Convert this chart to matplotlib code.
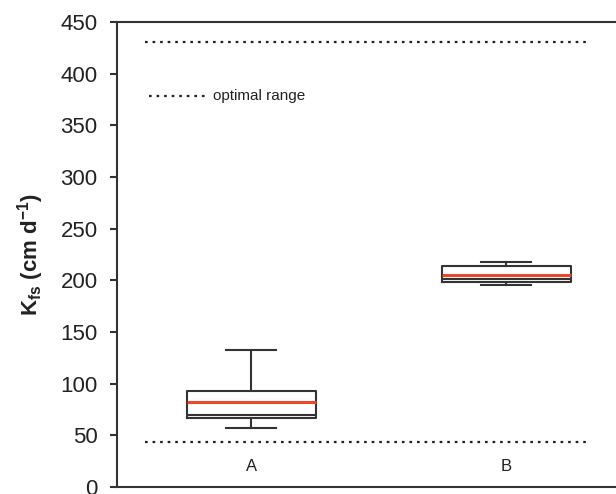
import matplotlib
matplotlib.use("Agg")
import matplotlib.pyplot as plt

plt.rcParams['font.family'] = ['Liberation Sans', 'DejaVu Sans']
plt.rcParams['mathtext.fontset'] = 'custom'
plt.rcParams['mathtext.rm'] = 'Liberation Sans'
plt.rcParams['mathtext.bf'] = 'Liberation Sans:bold'

# valores
grupos = ["A", "B"]
posiciones = [1, 2]
q1 = [67, 198]
mediana = [70, 201]
media = [82, 205]
q3 = [93, 214]
bigote_inf = [57, 195.5]
bigote_sup = [132.5, 218]

rango_optimo = [43.5, 430.5]
ticks_y = [0, 50, 100, 150, 200, 250, 300, 350, 400, 450]

estadisticas = []
for i in range(len(grupos)):
    estadisticas.append({
        "label": grupos[i],
        "q1": q1[i], "med": mediana[i], "q3": q3[i],
        "whislo": bigote_inf[i], "whishi": bigote_sup[i],
        "mean": media[i], "fliers": [],
    })

fig = plt.figure(figsize=(6.16, 4.94), dpi=100)
ax = fig.add_axes([0.19, 0.0142, 0.81, 0.9413])

color_linea = '#333333'
ax.bxp(estadisticas, positions=posiciones, widths=0.506, showmeans=True, meanline=True,
       showfliers=False,
       boxprops=dict(color=color_linea, linewidth=1.5),
       whiskerprops=dict(color=color_linea, linewidth=1.5),
       capprops=dict(color=color_linea, linewidth=1.5),
       medianprops=dict(color=color_linea, linewidth=1.5),
       meanprops=dict(color='#e8472a', linestyle='-', linewidth=2.2),
       capwidths=0.196)

# lineas del rango optimo
for v in rango_optimo:
    ax.plot([0.584, 2.329], [v, v], linestyle=(0, (1.2, 2.2)), color='#222222', linewidth=1.6)

# leyenda manual
ax.plot([0.6, 0.82], [378, 378], linestyle=(0, (1.2, 2.2)), color='#222222', linewidth=1.6)
ax.text(0.85, 378, "optimal range", fontsize=11, va='center', ha='left', color='#222222')

for p, g in zip(posiciones, grupos):
    ax.text(p, 20, g, fontsize=12, ha='center', va='center', color='#222222')

ax.set_xlim(0.4745, 2.431)
ax.set_ylim(0, 450)
ax.set_yticks(ticks_y)
ax.set_xticks([])
ax.tick_params(axis='y', length=5, width=1.5, color=color_linea, labelsize=16, pad=9,
               labelcolor='#222222')

for lado in ['left', 'bottom', 'top']:
    ax.spines[lado].set_linewidth(1.5)
    ax.spines[lado].set_color(color_linea)
ax.spines['right'].set_visible(False)

ax.set_ylabel(r'K$_{\mathbf{fs}}$ (cm d$^{\mathbf{-1}}$)', fontsize=16, fontweight='bold',
              labelpad=10, color='#222222')

plt.savefig("out.png", dpi=100)
plt.close()
